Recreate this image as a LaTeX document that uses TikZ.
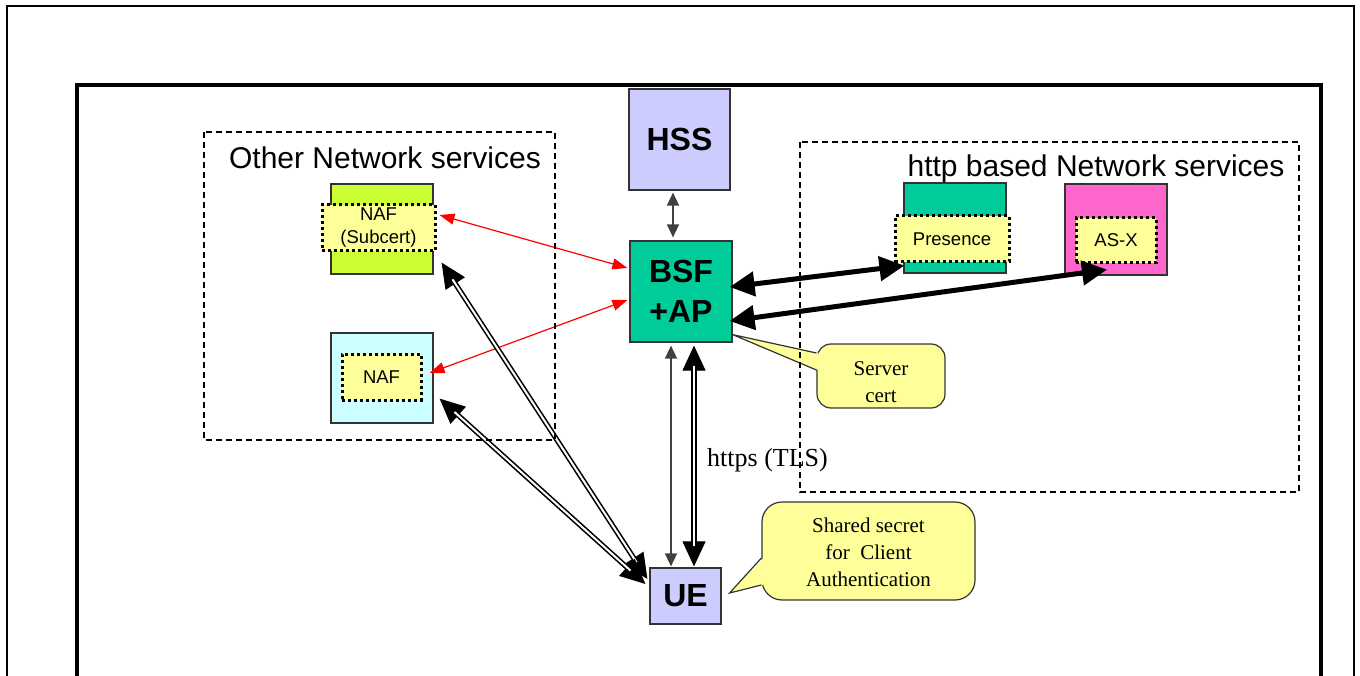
\documentclass[tikz,border=0pt]{standalone}
\usepackage{fontspec}
\setmainfont{Liberation Serif}
\setsansfont{Liberation Sans}
\usetikzlibrary{arrows.meta,positioning}
\definecolor{lavender}{HTML}{CCCCFF}
\definecolor{seagreen}{HTML}{00CC99}
\definecolor{lime}{HTML}{CCFF33}
\definecolor{palecyan}{HTML}{CCFFFF}
\definecolor{pinkish}{HTML}{FF66CC}
\definecolor{paleyellow}{HTML}{FFFF99}
\tikzset
{
    mainbox/.style = {rectangle, draw=black!80, line width=1.2pt, align=center, inner sep=0pt, font=\sffamily\bfseries\fontsize{32}{40}\selectfont},
    svcbox/.style  = {rectangle, draw=black!80, line width=1.2pt, inner sep=0pt, minimum width=102pt, minimum height=90pt},
    nafbox/.style  = {rectangle, draw=black, line width=3pt, dash pattern=on 3pt off 3pt, fill=paleyellow, align=center, inner sep=0pt, minimum height=46pt, font=\sffamily\fontsize{18.5}{23}\selectfont},
    area/.style    = {draw=black, line width=1.8pt, dash pattern=on 6pt off 4pt},
    areatitle/.style = {font=\sffamily\fontsize{30}{34}\selectfont},
    balloon/.style = {rectangle, draw=black!80, line width=1.2pt, fill=paleyellow, align=center, font=\fontsize{21}{27}\selectfont},
    thinarrow/.style = {draw=black!75, line width=1.4pt, {Triangle[length=13pt,width=12pt]}-{Triangle[length=13pt,width=12pt]}},
    redarrow/.style  = {draw=red, line width=1.2pt, {Triangle[length=15pt,width=11pt]}-{Triangle[length=15pt,width=11pt]}},
    bigarrow/.style  = {draw=black, line width=5pt, {Triangle[length=25pt,width=24pt]}-{Triangle[length=25pt,width=24pt]}},
    dblhead/.style   = {draw=black, line width=1pt, {Triangle[length=25pt,width=23pt]}-{Triangle[length=25pt,width=23pt]}},
    dblshaft/.style  = {draw=black, line width=1.6pt, double=white, double distance=2pt, shorten <=20pt, shorten >=20pt}
}
\begin{document}
\begin{tikzpicture}[x=1pt,y=-1pt]
\useasboundingbox (0,0) rectangle (1360,676);
\draw[line width=2pt] (7,676) |- (1354,6) -- (1354,676);
\draw[line width=4pt] (77,676) |- (1321,85) -- (1321,676);

\node[mainbox, fill=lavender, minimum width=101pt, minimum height=101pt] (hss) at (679.5,139.5) {HSS};
\node[mainbox, fill=seagreen, minimum width=102pt, minimum height=101pt] (bsf) at (681,291.5) {BSF\\+AP};
\node[mainbox, fill=lavender, minimum width=71pt, minimum height=56pt] (ue) at (685.5,596) {UE};

\node[svcbox, fill=lime] (nafsub) at (382,229) {};
\node[nafbox, minimum width=113pt] (nafsubin) at (378.5,228) {NAF\\(Subcert)};
\node[svcbox, fill=palecyan] (naf) at (382,378) {};
\node[nafbox, minimum width=79pt] (nafin) at (381.5,377) {NAF};
\node[svcbox, fill=seagreen] (pres) at (955,228) {};
\node[nafbox, minimum width=114pt] (presin) at (952,239) {Presence};
\node[svcbox, fill=pinkish, minimum height=91pt] (asx) at (1116,229.5) {};
\node[nafbox, minimum width=80pt, minimum height=45pt] (asxin) at (1116,240.5) {AS-X};

\node[areatitle] (othertitle) at (385,158) {Other Network services};
\node[areatitle] (httptitle) at (1096,169) {http based Network services};

\draw[thinarrow] ([shift={(-6.5,2)}]hss.south) -- ([shift={(-8,-3)}]bsf.north);
\draw[redarrow] ([shift={(3,-13)}]nafsubin.east) -- ([shift={(-2,-23.5)}]bsf.west);
\draw[redarrow] ([shift={(7,-4)}]nafin.east) -- ([shift={(-2,8.5)}]bsf.west);
\draw[bigarrow] ([shift={(-3,-4.5)}]bsf.east) -- ([shift={(1,-8)}]pres.south west);
\draw[bigarrow] ([shift={(-3,29.5)}]bsf.east) -- ([shift={(-9,-6)}]asx.south);
\draw[thinarrow] ([shift={(-10,3)}]bsf.south) -- ([shift={(-14.5,-1)}]ue.north);
\draw[dblhead] ([shift={(13,3)}]bsf.south) -- ([shift={(8.5,-1)}]ue.north);
\draw[dblshaft] ([shift={(13,3)}]bsf.south) -- ([shift={(8.5,-1)}]ue.north);
\draw[dblhead] ([shift={(-2,-17)}]ue.west) -- ([shift={(8,-12)}]nafsub.south east);
\draw[dblshaft] ([shift={(-2,-17)}]ue.west) -- ([shift={(8,-12)}]nafsub.south east);
\draw[dblhead] ([shift={(-4,-12)}]ue.west) -- ([shift={(6,-25)}]naf.south east);
\draw[dblshaft] ([shift={(-4,-12)}]ue.west) -- ([shift={(6,-25)}]naf.south east);

\node[font=\fontsize{26}{30}\selectfont] (https) at (767.5,460) {https (TLS)};

\node[balloon, rounded corners=14pt, minimum width=128pt, minimum height=64pt, text height=53pt] (cert) at (881,376) {Server\\cert};
\coordinate (certtip) at ([shift={(0,-8)}]bsf.south east);
\fill[paleyellow] (certtip) -- ([shift={(2,-23)}]cert.west) -- ([shift={(2,-6)}]cert.west) -- cycle;
\draw[black!80, line width=1.2pt] ([shift={(0,-23)}]cert.west) -- (certtip) -- ([shift={(0,-6)}]cert.west);

\node[balloon, rounded corners=20pt, minimum width=213pt, minimum height=98pt, text height=72pt] (secret) at (868.5,551) {Shared secret\\for\enspace Client\\Authentication};
\coordinate (secrettip) at ([shift={(8,-3)}]ue.east);
\fill[paleyellow] (secrettip) -- ([shift={(2,7)}]secret.west) -- ([shift={(2,34)}]secret.west) -- cycle;
\draw[black!80, line width=1.2pt] ([shift={(0,7)}]secret.west) -- (secrettip) -- ([shift={(0,34)}]secret.west);

\draw[area] (204,132) rectangle (555,440);
\draw[area] (800,142) rectangle (1299,492);
\end{tikzpicture}
\end{document}
